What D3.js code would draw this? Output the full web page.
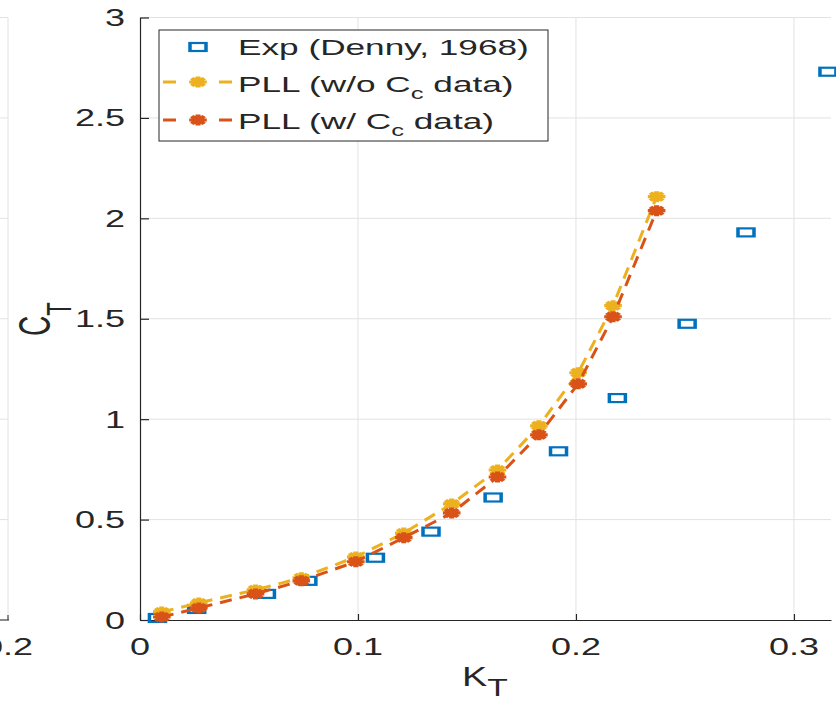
<!DOCTYPE html>
<html lang="en">
<head>
<meta charset="utf-8">
<title>CT vs KT</title>
<script src="https://cdn.jsdelivr.net/npm/d3@7"></script>
<style>
  body { margin: 0; background: #fff; }
  text { font-family: "Liberation Sans", Arial, sans-serif; fill: #262626; }
</style>
</head>
<body>
<script>
// Exp (Denny, 1968)
var expKT = [0.008, 0.026, 0.058, 0.077, 0.108, 0.1335, 0.162, 0.192, 0.219, 0.251, 0.278, 0.3156];
var expCT = [0.01, 0.055, 0.13, 0.195, 0.31, 0.44, 0.61, 0.84, 1.105, 1.475, 1.93, 2.73];
// PLL runs
var pllKT = [0.010, 0.027, 0.053, 0.074, 0.099, 0.121, 0.143, 0.164, 0.183, 0.201, 0.217, 0.237];
var pllNoCc = [0.04, 0.085, 0.15, 0.21, 0.314, 0.433, 0.578, 0.747, 0.967, 1.231, 1.565, 2.108];
var pllCc = [0.015, 0.06, 0.13, 0.195, 0.29, 0.41, 0.533, 0.712, 0.922, 1.176, 1.51, 2.038];

var xTicks = [0, 0.1, 0.2, 0.3];
var xTickLabels = ["0", "0.1", "0.2", "0.3"];
var yTicks = [0, 0.5, 1, 1.5, 2, 2.5, 3];
var yTickLabels = ["0", "0.5", "1", "1.5", "2", "2.5", "3"];

var W = 836, H = 702;
var SX = 1.5;          // the source picture is stretched sideways
var blue = "#0072BD", orange = "#D95319", yellow = "#EDB120", ink = "#262626", grid = "#e2e2e2";

var x = d3.scaleLinear().domain([0, 0.317]).range([140, 831]);
var y = d3.scaleLinear().domain([0, 3]).range([620, 17.5]);

var svg = d3.select("body").append("svg").attr("width", W).attr("height", H);
svg.append("rect").attr("width", W).attr("height", H).attr("fill", "#fff");

// bit of the neighbouring subplot on the far left (its "0.2" label is cut by the edge)
var nb = svg.append("g");
nb.selectAll("line.h").data(yTicks).enter().append("line")
    .attr("x1", 0).attr("x2", 8).attr("y1", y).attr("y2", y).attr("stroke", grid);
nb.append("line").attr("x1", 8).attr("x2", 8).attr("y1", y(3)).attr("y2", y(0)).attr("stroke", grid);
nb.append("line").attr("x1", 0).attr("x2", 9).attr("y1", y(0)).attr("y2", y(0)).attr("stroke", ink);
nb.append("line").attr("x1", 8).attr("x2", 8).attr("y1", y(0)).attr("y2", y(0) - 5).attr("stroke", ink);
nb.append("text").attr("transform", "translate(8,655) scale(" + SX + ",1)")
    .attr("text-anchor", "middle").attr("font-size", 24).text("0.2");

// grid
var g = svg.append("g");
g.selectAll("line.gy").data(yTicks.slice(1)).enter().append("line")
    .attr("x1", x(0)).attr("x2", x.range()[1]).attr("y1", y).attr("y2", y).attr("stroke", grid);
g.selectAll("line.gx").data(xTicks.slice(1)).enter().append("line")
    .attr("x1", x).attr("x2", x).attr("y1", y(0)).attr("y2", y(3)).attr("stroke", grid);

// axes
var xAxis = svg.append("g").attr("transform", "translate(0," + y(0) + ")")
    .call(d3.axisBottom(x).tickValues(xTicks).tickSizeInner(-6).tickSizeOuter(0).tickFormat(""));
var yAxis = svg.append("g").attr("transform", "translate(" + x(0) + ",0)")
    .call(d3.axisLeft(y).tickValues(yTicks).tickSizeInner(-9).tickSizeOuter(0).tickFormat(""));
svg.selectAll(".domain, .tick line").attr("stroke", ink).attr("stroke-width", 1.2);

svg.append("g").selectAll("text").data(xTicks).enter().append("text")
    .attr("transform", function(d) { return "translate(" + x(d) + ",655) scale(" + SX + ",1)"; })
    .attr("text-anchor", "middle").attr("font-size", 24)
    .text(function(d, i) { return xTickLabels[i]; });
svg.append("g").selectAll("text").data(yTicks).enter().append("text")
    .attr("transform", function(d) { return "translate(125," + (y(d) + 8.5) + ") scale(" + SX + ",1)"; })
    .attr("text-anchor", "end").attr("font-size", 24)
    .text(function(d, i) { return yTickLabels[i]; });

// axis titles
var xl = svg.append("text").attr("transform", "translate(462,686) scale(1.4,1)").attr("font-size", 27);
xl.append("tspan").text("K");
xl.append("tspan").attr("dy", 10).attr("font-size", 24).text("T");
var yl = svg.append("text").attr("transform", "translate(50,336) scale(1.6,1) rotate(-90)").attr("font-size", 28);
yl.append("tspan").text("C");
yl.append("tspan").attr("dy", 13).attr("font-size", 22).text("T");

// marks
var star = "M-5.5,0H5.5M0,-5.5V5.5M-3.9,-3.9L3.9,3.9M-3.9,3.9L3.9,-3.9";
function squareAt(sel, cx, cy) {
  sel.append("rect").attr("x", -5).attr("y", -4).attr("width", 10).attr("height", 8)
     .attr("transform", "translate(" + cx + "," + cy + ") scale(1.6,1)")
     .attr("fill", "none").attr("stroke", blue).attr("stroke-width", 2.2);
}
function starAt(sel, cx, cy, col) {
  sel.append("path").attr("d", star)
     .attr("transform", "translate(" + cx + "," + cy + ") scale(1.6,1)")
     .attr("fill", "none").attr("stroke", col).attr("stroke-width", 3.2);
}

var marks = svg.append("g");
expKT.forEach(function(k, i) { squareAt(marks, x(k), y(expCT[i])); });

var line = d3.line();
[[pllNoCc, yellow], [pllCc, orange]].forEach(function(s) {
  var pts = pllKT.map(function(k, i) { return [x(k), y(s[0][i])]; });
  marks.append("path").attr("d", line(pts)).attr("fill", "none")
      .attr("stroke", s[1]).attr("stroke-width", 3).attr("stroke-dasharray", "12,8");
  pts.forEach(function(p) { starAt(marks, p[0], p[1], s[1]); });
});

// legend
var lg = svg.append("g");
lg.append("rect").attr("x", 159).attr("y", 30).attr("width", 389).attr("height", 111)
    .attr("fill", "#fff").attr("stroke", ink).attr("stroke-width", 1);
squareAt(lg, 198, 47);
[[82, yellow], [120, orange]].forEach(function(r) {
  lg.append("line").attr("x1", 163).attr("x2", 233).attr("y1", r[0]).attr("y2", r[0])
      .attr("stroke", r[1]).attr("stroke-width", 3).attr("stroke-dasharray", "13,15");
  starAt(lg, 198, r[0], r[1]);
});
var legendText = [["Exp (Denny, 1968)", null, null, 55], ["PLL (w/o C", "c", " data)", 92], ["PLL (w/ C", "c", " data)", 129]];
legendText.forEach(function(t) {
  var tx = lg.append("text").attr("transform", "translate(238," + t[3] + ") scale(1.6,1)").attr("font-size", 22);
  tx.append("tspan").text(t[0]);
  if (t[1]) {
    tx.append("tspan").attr("dy", 7).attr("font-size", 16).text(t[1]);
    tx.append("tspan").attr("dy", -7).text(t[2]);
  }
});
</script>
</body>
</html>
